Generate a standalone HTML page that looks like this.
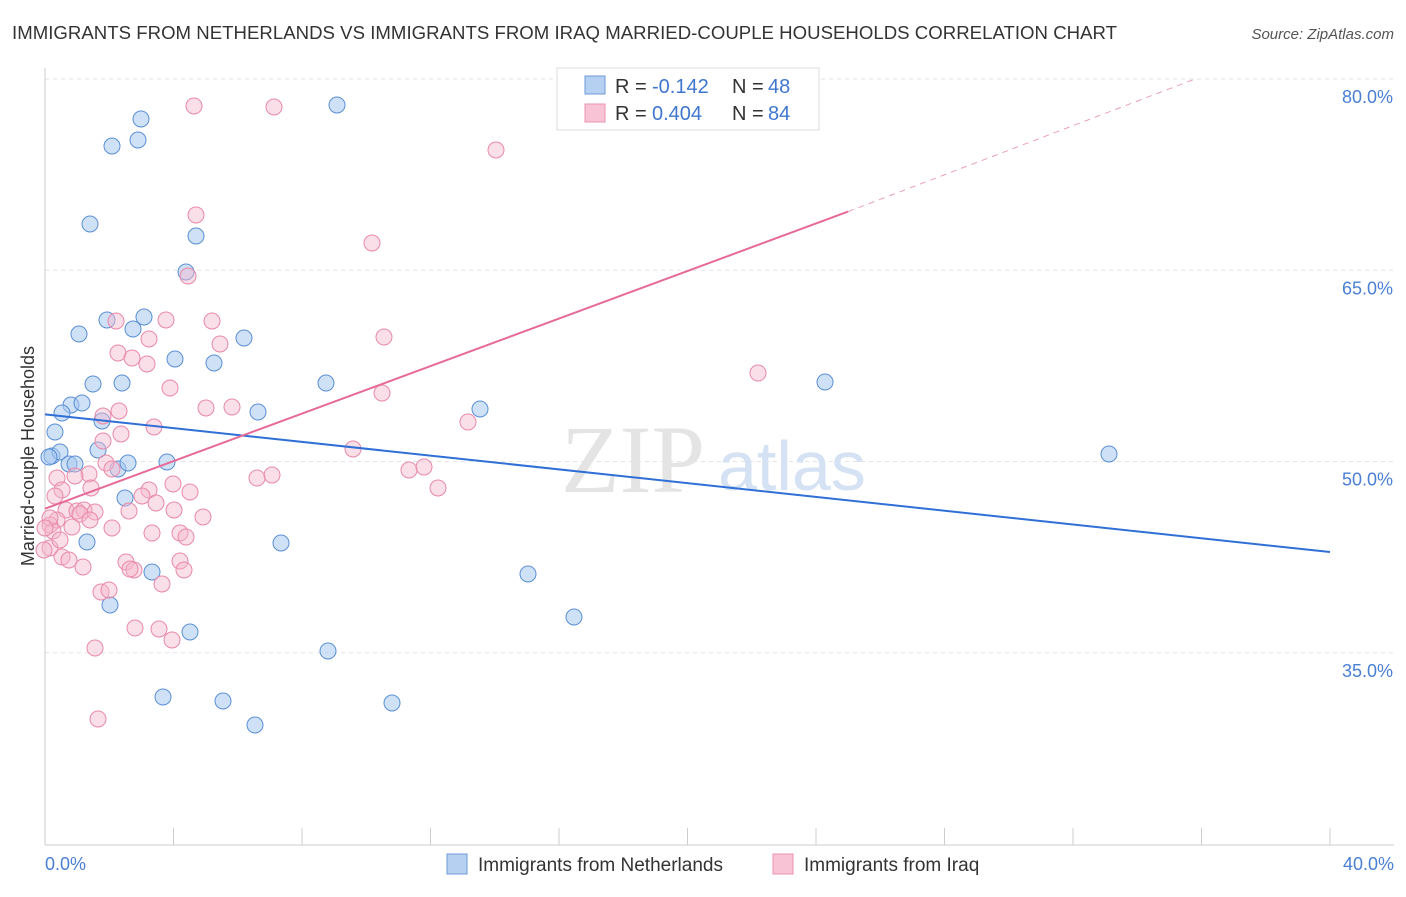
<!DOCTYPE html>
<html><head><meta charset="utf-8"><style>
body{margin:0;background:#fff;font-family:"Liberation Sans",sans-serif;}
</style></head><body>
<svg width="1406" height="892" xmlns="http://www.w3.org/2000/svg" font-family="Liberation Sans, sans-serif">
<text x="12" y="39" font-size="18.6" fill="#333" textLength="1105">IMMIGRANTS FROM NETHERLANDS VS IMMIGRANTS FROM IRAQ MARRIED-COUPLE HOUSEHOLDS CORRELATION CHART</text>
<text x="1394" y="39" font-size="15" fill="#555" font-style="italic" text-anchor="end">Source: ZipAtlas.com</text>
<g id="grid"></g>
<text x="705" y="492" font-size="96" fill="#e4e4e4" font-family="Liberation Serif, serif" text-anchor="end">ZIP</text>
<text x="718" y="490" font-size="70" fill="#d5e2f3">atlas</text>
<line x1="45" y1="68" x2="45" y2="845" stroke="#ccc"/>
<line x1="45" y1="845" x2="1394" y2="845" stroke="#ccc"/>
<text x="34" y="456" font-size="18" fill="#333" transform="rotate(-90 34 456)" text-anchor="middle">Married-couple Households</text>
<text x="45" y="870" font-size="18" fill="#4a7fd4">0.0%</text>
<text x="1394" y="870" font-size="18" fill="#4a7fd4" text-anchor="end">40.0%</text>
<g id="pts"></g>
<g id="lines"></g>
<g>
<rect x="557" y="68" width="262" height="62" fill="#fff" stroke="#ddd"/>
<rect x="585" y="76" width="20" height="18" fill="#b6d0f2" stroke="#6d9ad8"/>
<rect x="585" y="104" width="20" height="18" fill="#f8c3d4" stroke="#eb93b0"/>
<text x="615" y="93" font-size="20" fill="#333">R =</text>
<text x="652" y="93" font-size="20" fill="#3f77cf">-0.142</text>
<text x="732" y="93" font-size="20" fill="#333">N =</text>
<text x="768" y="93" font-size="20" fill="#3f77cf">48</text>
<text x="615" y="120" font-size="20" fill="#333">R =</text>
<text x="652" y="120" font-size="20" fill="#3f77cf">0.404</text>
<text x="732" y="120" font-size="20" fill="#333">N =</text>
<text x="768" y="120" font-size="20" fill="#3f77cf">84</text>
</g>
<g>
<rect x="447" y="854" width="20" height="20" fill="#b6d0f2" stroke="#6d9ad8"/>
<text x="478" y="871" font-size="19" fill="#333">Immigrants from Netherlands</text>
<rect x="773" y="854" width="20" height="20" fill="#f8c3d4" stroke="#eb93b0"/>
<text x="804" y="871" font-size="19" fill="#333">Immigrants from Iraq</text>
</g>
</svg>
<script>
const yTicks=[80,65,50,35];
const xTicks=[0,4,8,12,16,20,24,28,32,36,40];
const bluePx=[[141,119],[112,146],[138,140],[337,105],[90,224],[196,236],[186,272],[79,334],[107,320],[144,317],[133,329],[175,359],[244,338],[214,363],[93,384],[122,383],[71,405],[82,403],[62,413],[55,432],[102,421],[52,456],[60,452],[98,450],[69,464],[75,464],[118,469],[128,463],[167,462],[125,498],[258,412],[326,383],[480,409],[825,382],[1109,454],[87,542],[281,543],[152,572],[528,574],[110,605],[190,632],[574,617],[328,651],[163,697],[223,701],[392,703],[255,725],[49,457]];
const pinkPx=[[194,106],[274,107],[496,150],[196,215],[372,243],[188,276],[116,321],[166,320],[212,321],[384,337],[149,339],[220,344],[118,353],[132,358],[147,364],[170,388],[382,393],[758,373],[206,408],[232,407],[119,411],[103,416],[154,427],[121,434],[103,441],[468,422],[353,449],[106,463],[112,469],[89,474],[57,478],[75,476],[257,478],[272,475],[409,470],[424,467],[438,488],[149,490],[173,484],[142,496],[190,492],[62,490],[91,488],[55,496],[66,510],[77,511],[84,510],[95,512],[129,511],[156,503],[174,510],[203,517],[57,520],[80,514],[50,525],[53,531],[72,527],[112,528],[152,533],[180,533],[186,537],[50,548],[62,557],[83,567],[126,562],[134,570],[130,569],[180,561],[184,570],[162,584],[101,592],[109,590],[135,628],[159,629],[172,640],[95,648],[98,719],[50,518],[60,540],[44,550],[45,528],[90,520],[69,560]];
const inv=p=>[(p[0]-45)/1285*40, 80-(p[1]-79)/12.75];
const blueData=bluePx.map(inv), pinkData=pinkPx.map(inv);
const blueLine=[[0,53.7],[40,42.9]];
const pinkLine=[[0,46.3],[25,69.6],[35.8,80]];
const X=v=>45+v/40*1285, Y=v=>79+(80-v)*12.75;
const NS="http://www.w3.org/2000/svg";
const mk=(t,a,p)=>{const e=document.createElementNS(NS,t);for(const k in a)e.setAttribute(k,a[k]);p.appendChild(e);return e;};
const grid=document.getElementById('grid');
yTicks.forEach(v=>{
 const l=mk('line',{x1:45,x2:1394,y1:Y(v),y2:Y(v),stroke:'#e3e3e3','stroke-dasharray':'4,4'},grid);
 
 
 const t=mk('text',{x:1393,y:Y(v)+24,'font-size':18,fill:'#4a7fd4','text-anchor':'end'},grid);
 t.textContent=v.toFixed(1)+'%';
 
 
});
xTicks.forEach(v=>{
 const l=mk('line',{x1:X(v),x2:X(v),y1:828,y2:845,stroke:'#ccc'},grid);
 
 
});
const pts=document.getElementById('pts');
blueData.forEach(d=>{
 const c=mk('circle',{cx:X(d[0]),cy:Y(d[1]),r:8,fill:'rgba(168,200,240,0.55)',stroke:'#5b8fd6','stroke-width':1},pts);
 
 
});
pinkData.forEach(d=>{
 const c=mk('circle',{cx:X(d[0]),cy:Y(d[1]),r:8,fill:'rgba(245,184,204,0.45)',stroke:'#e889a8','stroke-width':1},pts);
 
 
});
const lg=document.getElementById('lines');
const bl=mk('line',{x1:X(blueLine[0][0]),y1:Y(blueLine[0][1]),x2:X(blueLine[1][0]),y2:Y(blueLine[1][1]),stroke:'#2f6fd6','stroke-width':2},lg);


const pl=mk('line',{x1:X(pinkLine[0][0]),y1:Y(pinkLine[0][1]),x2:X(pinkLine[1][0]),y2:Y(pinkLine[1][1]),stroke:'#e66a98','stroke-width':2},lg);


const pd=mk('line',{x1:X(pinkLine[1][0]),y1:Y(pinkLine[1][1]),x2:X(pinkLine[2][0]),y2:Y(pinkLine[2][1]),stroke:'#eaa0bb','stroke-width':1,'stroke-dasharray':'6,5'},lg);


</script>
</body></html>
